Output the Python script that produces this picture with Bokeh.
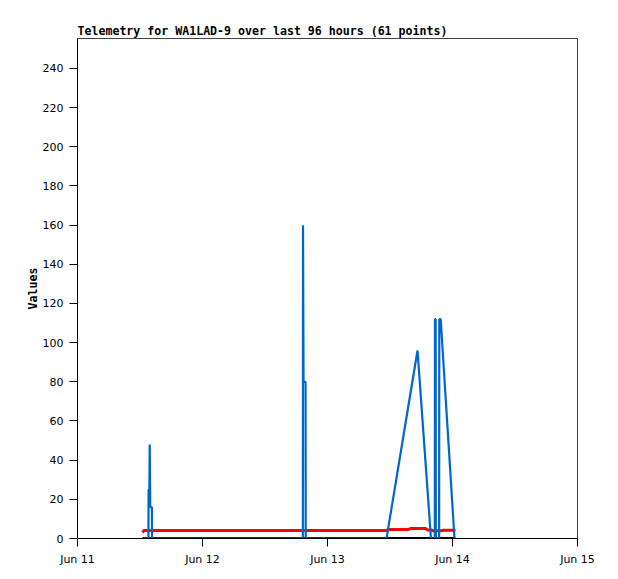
from bokeh.plotting import figure
from bokeh.models import FixedTicker, DatetimeTickFormatter, Range1d
from bokeh.embed import file_html
from bokeh.resources import INLINE
import pandas as pd

# ---- data ----
blue_times = [
    "2024-06-11 12:29", "2024-06-11 13:37", "2024-06-11 13:39", "2024-06-11 13:48",
    "2024-06-11 13:52", "2024-06-11 13:58", "2024-06-11 14:17", "2024-06-11 14:19",
    "2024-06-12 19:16", "2024-06-12 19:18", "2024-06-12 19:24", "2024-06-12 19:47",
    "2024-06-12 19:49",
    "2024-06-13 11:20", "2024-06-13 17:17", "2024-06-13 19:52", "2024-06-13 20:36",
    "2024-06-13 20:38", "2024-06-13 20:46", "2024-06-13 20:48", "2024-06-13 21:26",
    "2024-06-13 21:28", "2024-06-13 21:44", "2024-06-14 00:23", "2024-06-14 00:35",
]
blue_values = [0, 0, 25, 25, 48, 16, 16, 0,
               0, 160, 80, 80,
               0,
               0, 96, 0, 0,
               112, 112, 0, 0,
               112, 112, 0, 0]

red_times = [
    "2024-06-11 12:29", "2024-06-11 12:46", "2024-06-13 11:08", "2024-06-13 12:06",
    "2024-06-13 15:33", "2024-06-13 15:56", "2024-06-13 18:49", "2024-06-13 19:12",
    "2024-06-13 19:58", "2024-06-13 20:10", "2024-06-13 21:50", "2024-06-13 22:05",
    "2024-06-14 00:35",
]
red_values = [3.0, 4.1, 4.1, 4.6, 4.6, 5.1, 5.1, 4.4, 4.4, 3.9, 3.9, 4.2, 4.2]

black_times = ["2024-06-11 12:29", "2024-06-14 00:35"]
black_values = [0, 0]

x_ticks = ["2024-06-11", "2024-06-12", "2024-06-13", "2024-06-14", "2024-06-15"]
y_ticks = [0, 20, 40, 60, 80, 100, 120, 140, 160, 180, 200, 220, 240]
y_max = 255.3

title_text = "Telemetry for WA1LAD-9 over last 96 hours (61 points)"
y_label = "Values"


def to_dt(lst):
    return [pd.Timestamp(s) for s in lst]


def to_ms(lst):
    return [pd.Timestamp(s).value / 1e6 for s in lst]


p = figure(
    x_axis_type="datetime",
    x_range=Range1d(pd.Timestamp(x_ticks[0]), pd.Timestamp(x_ticks[-1])),
    y_range=Range1d(0, y_max),
    frame_width=500, frame_height=500,
    min_border_left=77, min_border_top=38, min_border_right=30, min_border_bottom=30,
    output_backend="svg", toolbar_location=None,
    title=title_text,
)
p.background_fill_color = "white"
p.border_fill_color = "white"
p.outline_line_color = "#444444"
p.outline_line_width = 1
p.grid.visible = False

p.title.text_font = "DejaVu Sans Mono"
p.title.text_font_style = "bold"
p.title.text_font_size = "11.6px"
p.title.text_color = "black"
p.title.align = "left"
p.title.standoff = 2

p.line(to_dt(red_times), red_values, color="#FF0000", line_width=3)
p.line(to_dt(black_times), black_values, color="#000000", line_width=3)
p.line(to_dt(blue_times), blue_values, color="#0066CC", line_width=2.2)

xa = p.xaxis[0]
xa.ticker = FixedTicker(ticks=to_ms(x_ticks))
xa.formatter = DatetimeTickFormatter(days="%b %d", months="%b %d", hours="%b %d",
                                     years="%b %d")
ya = p.yaxis[0]
ya.ticker = FixedTicker(ticks=y_ticks)
ya.axis_label = y_label
ya.axis_label_text_font = "DejaVu Sans Mono"
ya.axis_label_text_font_style = "bold"
ya.axis_label_text_font_size = "11.6px"
ya.axis_label_text_color = "black"
ya.axis_label_standoff = 0

for ax in (xa, ya):
    ax.axis_line_color = "black"
    ax.axis_line_width = 1
    ax.major_tick_line_color = "black"
    ax.major_tick_in = 0
    ax.major_tick_out = 8
    ax.minor_tick_line_color = None
    ax.major_label_text_font = "DejaVu Sans"
    ax.major_label_text_font_size = "11px"
    ax.major_label_text_color = "black"
    ax.major_label_standoff = 6

open("out.html", "w").write(file_html(p, INLINE))
